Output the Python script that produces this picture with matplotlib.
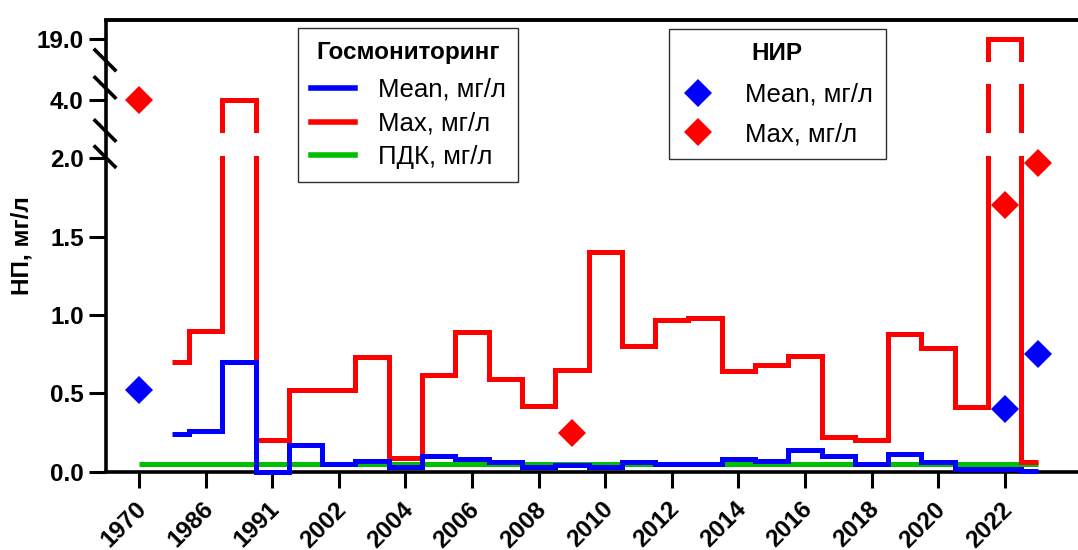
import matplotlib
matplotlib.use('Agg')
import matplotlib.pyplot as plt
from matplotlib.lines import Line2D
from matplotlib.transforms import ScaledTranslation
import numpy as np

plt.rcParams['font.family'] = ['Liberation Sans', 'DejaVu Sans']

# ---------------- data ----------------
years = ['1970', '1985', '1986', '1990', '1991', '2001', '2002', '2003', '2004',
         '2005', '2006', '2007', '2008', '2009', '2010', '2011', '2012', '2013',
         '2014', '2015', '2016', '2017', '2018', '2019', '2020', '2021', '2022', '2023']

# Госмониторинг (from 1985 to 2023)
gos_years = years[1:]
gos_mean = [0.24, 0.26, 0.70, 0.00, 0.17, 0.05, 0.07, 0.03, 0.10, 0.08, 0.06, 0.03,
            0.04, 0.03, 0.06, 0.05, 0.05, 0.08, 0.07, 0.14, 0.10, 0.05, 0.11, 0.06,
            0.02, 0.015, 0.005]
gos_max = [0.70, 0.90, 4.0, 0.20, 0.52, 0.52, 0.73, 0.09, 0.62, 0.89, 0.59, 0.42,
           0.65, 1.40, 0.80, 0.97, 0.98, 0.64, 0.68, 0.74, 0.22, 0.20, 0.88, 0.79,
           0.41, 19.0, 0.06]
pdk = [0.05, 0.05, 0.05, 0.05, 0.05, 0.05, 0.05, 0.05, 0.05, 0.05, 0.05, 0.05, 0.05, 0.05,
       0.05, 0.05, 0.05, 0.05, 0.05, 0.05, 0.05, 0.05, 0.05, 0.05, 0.05, 0.05, 0.05, 0.05]

# НИР
nir_years = ['1970', '2009', '2022', '2023']
nir_mean = [0.52, np.nan, 0.40, 0.75]
nir_max = [4.0, 0.25, 1.70, 1.97]

tick_labels = years[::2]

# ---------------- style ----------------
BLUE = '#0000FF'
RED = '#FF0000'
GREEN = '#00BF00'
W, H = 1078, 550
LW = 3.6
FS = 17.5
LFS = 18.5
MS = 14

fig = plt.figure(figsize=(W / 100, H / 100), dpi=100)


def rect(top_px, bot_px):
    return [106 / W, 1 - bot_px / H, 1 - 106 / W, (bot_px - top_px) / H]


ax_top = fig.add_axes(rect(20, 62))
ax_mid = fig.add_axes(rect(84, 133))
ax_bot = fig.add_axes(rect(156, 476.4))
axes = [ax_top, ax_mid, ax_bot]
ylims = [(18.89, 19.09), (3.9, 4.05), (-0.03, 2.015)]
yticks = [[19.0], [4.0], [0.0, 0.5, 1.0, 1.5, 2.0]]

xidx = {y: i for i, y in enumerate(years)}
gx = [xidx[y] for y in gos_years]
px = [xidx[y] for y in years]
nx = [xidx[y] for y in nir_years]

for ax, yl, yt in zip(axes, ylims, yticks):
    kw = dict(where='mid', lw=LW, solid_joinstyle='miter', solid_capstyle='butt', zorder=3)
    ax.step(px, pdk, color=GREEN, **kw)
    ax.step(gx, gos_max, color=RED, **kw)
    ax.step(gx, gos_mean, color=BLUE, **kw)
    lo, hi = yl
    for vals, col in ((nir_mean, BLUE), (nir_max, RED)):
        xs = [x for x, v in zip(nx, vals) if not np.isnan(v) and lo <= v <= hi]
        vs = [v for v in vals if not np.isnan(v) and lo <= v <= hi]
        ax.plot(xs, vs, linestyle='none', marker='D', markersize=MS, color=col,
                markeredgewidth=0, zorder=4, clip_on=False)
    ax.set_ylim(lo, hi)
    ax.set_xlim(-0.99, 28.2)
    ax.set_yticks(yt)
    ax.set_yticklabels([f'{v:.1f}' for v in yt])
    ax.tick_params(axis='y', direction='out', length=12, width=2.2, pad=4,
                   labelsize=FS)
    for lab in ax.get_yticklabels():
        lab.set_fontweight('bold')
    for s in ax.spines.values():
        s.set_visible(False)
    ax.set_facecolor('none')
    if ax is not ax_bot:
        ax.set_xticks([])

ax_top.spines['top'].set_visible(True)
ax_top.spines['top'].set_linewidth(2.8)

ax_bot.spines['bottom'].set_visible(True)
ax_bot.spines['bottom'].set_position(('data', 0))
ax_bot.spines['bottom'].set_linewidth(2.6)
ax_bot.set_xticks(range(0, len(years), 2))
ax_bot.set_xticklabels(tick_labels, rotation=45, ha='right', va='center',
                       rotation_mode='anchor', fontsize=FS, fontweight='bold')
ax_bot.tick_params(axis='x', direction='out', length=11.5, width=2.2, pad=13)
shift = ScaledTranslation(4 / 100, 0, fig.dpi_scale_trans)
for lab in ax_bot.get_xticklabels():
    lab.set_transform(lab.get_transform() + shift)

# continuous left axis line + break marks (figure pixel coords)
def fpt(x, y):
    return x / W, 1 - y / H

x0, y0 = fpt(105.5, 20)
x1, y1 = fpt(105.5, 471.7)
fig.add_artist(Line2D([x0, x1], [y0, y1], color='black', lw=2.6, solid_capstyle='butt'))
for yc in (60, 87.5, 130.5, 156.7):
    a = fpt(95, yc - 10)
    b = fpt(115, yc + 10)
    fig.add_artist(Line2D([a[0], b[0]], [a[1], b[1]], color='black', lw=2.6))

fig.text(22 / W, 1 - 246 / H, 'НП, мг/л', rotation=90, ha='center', va='center',
         fontsize=FS, fontweight='bold')

# legends
h1 = [Line2D([], [], color=BLUE, lw=4), Line2D([], [], color=RED, lw=4),
      Line2D([], [], color=GREEN, lw=4)]
leg1 = fig.legend(h1, ['Mean, мг/л', 'Max, мг/л', 'ПДК, мг/л'], title='Госмониторинг',
                  loc='upper left', bbox_to_anchor=fpt(298, 28), borderaxespad=0,
                  fancybox=False, edgecolor='#303030', framealpha=1, fontsize=LFS,
                  title_fontproperties={'weight': 'bold', 'size': FS},
                  handlelength=1.7, handletextpad=0.9, borderpad=0.5, labelspacing=0.38)
leg1.get_frame().set_linewidth(1.0)
leg1._legend_box.sep = 10

h2 = [Line2D([], [], color=BLUE, marker='D', linestyle='none', markersize=MS, markeredgewidth=0),
      Line2D([], [], color=RED, marker='D', linestyle='none', markersize=MS, markeredgewidth=0)]
leg2 = fig.legend(h2, ['Mean, мг/л', 'Max, мг/л'], title='НИР',
                  loc='upper left', bbox_to_anchor=fpt(669, 29), borderaxespad=0,
                  fancybox=False, edgecolor='#303030', framealpha=1, fontsize=LFS,
                  title_fontproperties={'weight': 'bold', 'size': FS},
                  handlelength=1.25, handletextpad=1.2, borderpad=0.5, labelspacing=0.6)
leg2.get_frame().set_linewidth(1.0)
leg2._legend_box.sep = 13

fig.savefig('out.png', dpi=100)
